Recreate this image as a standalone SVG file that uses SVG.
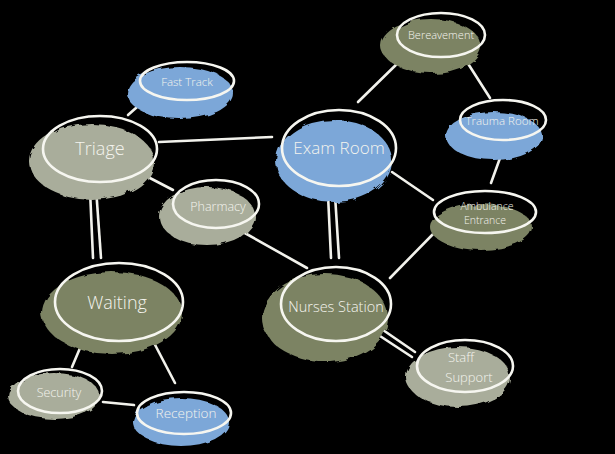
<svg xmlns="http://www.w3.org/2000/svg" width="615" height="454" viewBox="0 0 615 454">
<defs>
<filter id="rough" x="-20%" y="-20%" width="140%" height="140%">
<feTurbulence type="fractalNoise" baseFrequency="0.09" numOctaves="2" seed="3"/>
<feDisplacementMap in="SourceGraphic" scale="6"/>
</filter>
</defs>
<style>
.sage{fill:#a9ad9b}
.olive{fill:#7b8364}
.blue{fill:#7ca7d8}
.blob{filter:url(#rough)}
.ring{fill:none;stroke:#f6f6f0;stroke-width:2.6}
.link{stroke:#f2f2ec;stroke-width:2.6;stroke-linecap:round;fill:none}
text{font-family:"Open Sans","Liberation Sans",sans-serif;fill:#f4f4ee;text-anchor:middle;font-weight:300}
</style>
<rect width="615" height="454" fill="#000"/>
<g id="connectors">
<line class="link" x1="145" y1="100" x2="128" y2="115"/>
<line class="link" x1="159" y1="142" x2="272" y2="137"/>
<line class="link" x1="148" y1="177" x2="173" y2="190"/>
<line class="link" x1="90" y1="190" x2="93" y2="258"/>
<line class="link" x1="96" y1="188" x2="101" y2="258"/>
<line class="link" x1="243" y1="232" x2="307" y2="268"/>
<line class="link" x1="328" y1="195" x2="331" y2="258"/>
<line class="link" x1="335" y1="195" x2="339" y2="258"/>
<line class="link" x1="358" y1="102" x2="403" y2="58"/>
<line class="link" x1="467" y1="62" x2="490" y2="98"/>
<line class="link" x1="504" y1="147" x2="491" y2="183"/>
<line class="link" x1="392" y1="172" x2="433" y2="200"/>
<line class="link" x1="437" y1="230" x2="390" y2="278"/>
<line class="link" x1="383" y1="330" x2="415" y2="352"/>
<line class="link" x1="380" y1="336" x2="412" y2="357"/>
<line class="link" x1="83" y1="341" x2="72" y2="367"/>
<line class="link" x1="152" y1="339" x2="175" y2="383"/>
<line class="link" x1="103" y1="402" x2="134" y2="405"/>
</g>
<g id="fast-track">
<ellipse class="blob blue" cx="180" cy="93" rx="53" ry="26"/>
<ellipse class="ring" cx="187" cy="81" rx="47" ry="19"/>
<text x="187" y="86" font-size="11.5">Fast Track</text>
</g>
<g id="triage">
<ellipse class="blob sage" cx="92" cy="162" rx="62" ry="38"/>
<ellipse class="ring" cx="100" cy="149" rx="57" ry="33"/>
<text x="100" y="155" font-size="18">Triage</text>
</g>
<g id="pharmacy">
<ellipse class="blob sage" cx="207" cy="216" rx="48" ry="29"/>
<ellipse class="ring" cx="216" cy="204" rx="43" ry="24"/>
<text x="218" y="211" font-size="12.5">Pharmacy</text>
</g>
<g id="exam-room">
<ellipse class="blob blue" cx="334" cy="161" rx="58" ry="41"/>
<ellipse class="ring" cx="339" cy="148" rx="57" ry="38"/>
<text x="339" y="154" font-size="17">Exam Room</text>
</g>
<g id="bereavement">
<ellipse class="blob olive" cx="431" cy="46" rx="50" ry="27"/>
<ellipse class="ring" cx="441" cy="35" rx="44" ry="22"/>
<text x="441" y="39" font-size="11">Bereavement</text>
</g>
<g id="trauma-room">
<ellipse class="blob blue" cx="494" cy="136" rx="48" ry="24"/>
<ellipse class="ring" cx="503" cy="120" rx="43" ry="20"/>
<text x="502" y="125" font-size="11.5">Trauma Room</text>
</g>
<g id="ambulance-entrance">
<ellipse class="blob olive" cx="481" cy="227" rx="51" ry="23"/>
<ellipse class="ring" cx="485" cy="212" rx="51" ry="21"/>
<text x="487" y="210" font-size="10.5">Ambulance</text>
<text x="485" y="224" font-size="10.5">Entrance</text>
</g>
<g id="waiting">
<ellipse class="blob olive" cx="112" cy="313" rx="70" ry="41"/>
<ellipse class="ring" cx="119" cy="302" rx="64" ry="39"/>
<text x="117" y="309" font-size="18">Waiting</text>
</g>
<g id="security">
<ellipse class="blob sage" cx="54" cy="396" rx="46" ry="23"/>
<ellipse class="ring" cx="60" cy="391" rx="42" ry="22"/>
<text x="59" y="397" font-size="12.5">Security</text>
</g>
<g id="reception">
<ellipse class="blob blue" cx="181" cy="422" rx="48" ry="24"/>
<ellipse class="ring" cx="184" cy="413" rx="47" ry="21"/>
<text x="186" y="418" font-size="13.5">Reception</text>
</g>
<g id="nurses-station">
<ellipse class="blob olive" cx="325" cy="318" rx="63" ry="44"/>
<ellipse class="ring" cx="336" cy="304" rx="55" ry="37"/>
<text x="336" y="312" font-size="14.5">Nurses Station</text>
</g>
<g id="staff-support">
<ellipse class="blob sage" cx="458" cy="377" rx="52" ry="30"/>
<ellipse class="ring" cx="465" cy="366" rx="48" ry="26"/>
<text x="461" y="362" font-size="13">Staff</text>
<text x="469" y="382" font-size="13">Support</text>
</g>
</svg>
